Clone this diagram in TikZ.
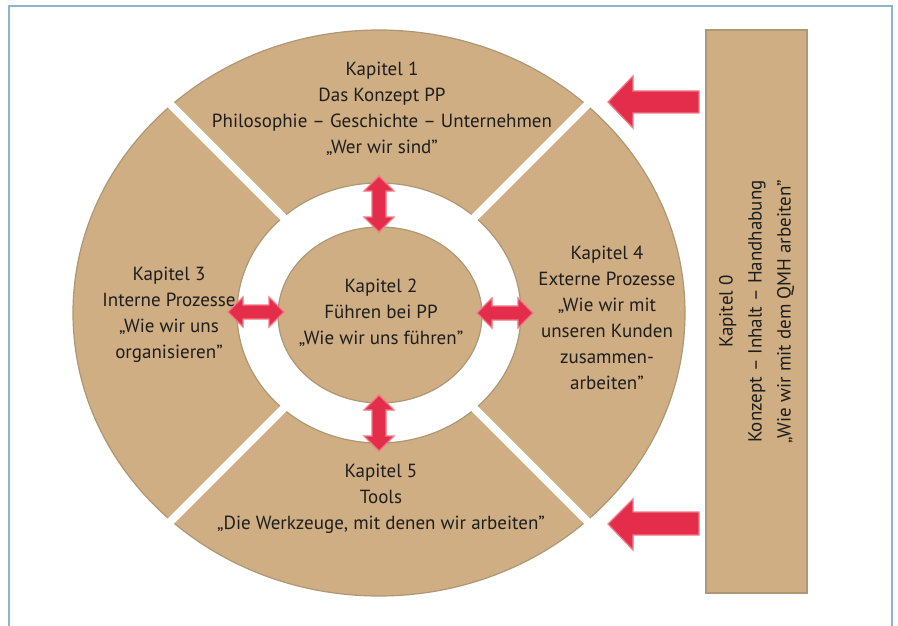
\documentclass[tikz,border=0pt]{standalone}
\usepackage{fontspec}
\setmainfont{PT Sans}
\usetikzlibrary{shapes.geometric}
\definecolor{tan}{HTML}{CEAE82}
\definecolor{tanedge}{HTML}{AE9774}
\definecolor{framec}{HTML}{8EB4C9}
\definecolor{redfill}{HTML}{E42D4A}
\definecolor{rededge}{HTML}{F07A86}
\definecolor{txt}{HTML}{1E1E1E}
\tikzset{
  ring/.style={fill=tan, even odd rule},
  ringedge/.style={draw=tanedge, line width=1.2pt},
  gapline/.style={draw=white, line width=8pt},
  label/.style={align=center, text=txt, font=\fontsize{19}{26}\selectfont, inner sep=0pt},
  redarrow/.style={fill=redfill, draw=rededge, line width=1.3pt, line join=miter},
  boxstyle/.style={fill=tan, draw=tanedge, line width=2pt},
}
\begin{document}
\begin{tikzpicture}[x=1pt,y=-1pt]
\useasboundingbox (0,0) rectangle (898,626);
% frame
\draw[framec, line width=2.5pt] (9,626) -- (9,6) -- (892,6) -- (892,626);
% ring
\coordinate (c) at (379,313);
\fill[ring] (c) ellipse [x radius=306pt, y radius=283pt] (c) ellipse [x radius=142pt, y radius=130pt];
\draw[ringedge] (c) ellipse [x radius=306pt, y radius=283pt];
\draw[ringedge] (c) ellipse [x radius=142pt, y radius=130pt];
% gaps
\draw[gapline] (c) -- ++(-228,-228);
\draw[gapline] (c) -- ++(228,-228);
\draw[gapline] (c) -- ++(-228,228);
\draw[gapline] (c) -- ++(228,228);
% inner ellipse
\node[ellipse, fill=tan, draw=tanedge, line width=1.2pt, minimum width=204pt, minimum height=176pt, inner sep=0pt] (k2e) at (380,315) {};
% texts
\node[label] (k1) at (382,109) {Kapitel 1\\Das Konzept PP\\Philosophie – Geschichte – Unternehmen\\„Wer wir sind”};
\node[label] (k2) at (381,313) {Kapitel 2\\Führen bei PP\\„Wie wir uns führen”};
\node[label] (k3) at (169,314.5) {Kapitel 3\\Interne Prozesse\\„Wie wir uns\\organisieren”};
\node[label] (k4) at (607,318) {Kapitel 4\\Externe Prozesse\\„Wie wir mit\\unseren Kunden\\zusammen-\\arbeiten”};
\node[label] (k5) at (381,498.5) {Kapitel 5\\Tools\\„Die Werkzeuge, mit denen wir arbeiten”};
% right box
\node[boxstyle, minimum width=101pt, minimum height=563pt, inner sep=0pt] (k0box) at (756.5,311.5) {};
\node[label, rotate=90, font=\fontsize{19}{29}\selectfont] (k0) at (k0box.center) {Kapitel 0\\Konzept – Inhalt – Handhabung\\„Wie wir mit dem QMH arbeiten”};
% big arrows
\filldraw[redarrow] (608,102) -- (633,76) -- (633,91) -- (699,91) -- (699,113) -- (633,113) -- (633,128) -- cycle;
\filldraw[redarrow] (608,524) -- (633,499) -- (633,512) -- (699,512) -- (699,535) -- (633,535) -- (633,550) -- cycle;
% double arrows
\foreach \px/\py/\rot in {256/312/0, 505/313/0, 379/204/90, 379/423/90}{
  \filldraw[redarrow, shift={(\px,\py)}, rotate=\rot] (-28,0) -- (-13,-15) -- (-13,-7) -- (13,-7) -- (13,-15) -- (28,0) -- (13,15) -- (13,7) -- (-13,7) -- (-13,15) -- cycle;
}
\end{tikzpicture}
\end{document}
